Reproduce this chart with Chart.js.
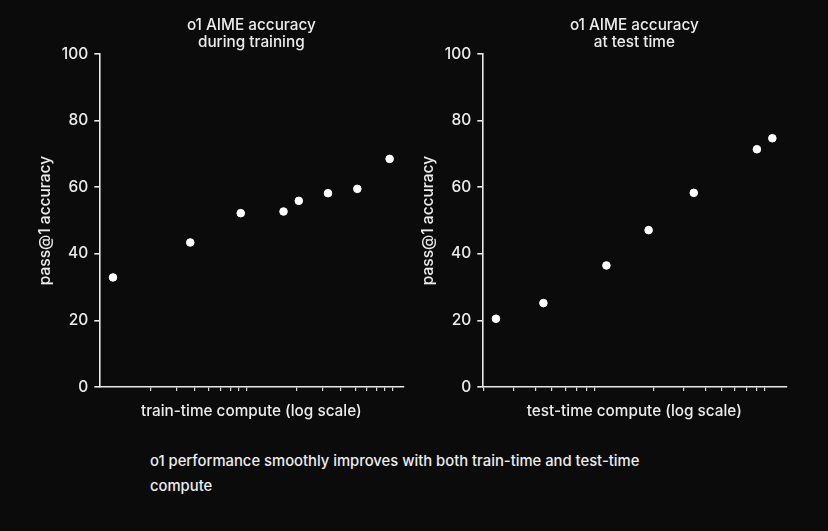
<!DOCTYPE html>
<html>
<head>
<meta charset="utf-8">
<script src="https://cdn.jsdelivr.net/npm/chart.js@4.4.1/dist/chart.umd.min.js"></script>
<style>
  html, body { margin:0; padding:0; background:#0b0b0b; }
  body { width:828px; height:531px; position:relative; overflow:hidden; font-family: Inter, "Noto Sans", sans-serif; }
  canvas { position:absolute; top:0; }
  #c1 { left:0px; }
  #c2 { left:383px; }
  #caption { position:absolute; left:150px; top:449px; color:#ededed; font-size:14.8px; font-weight:500; line-height:25px; white-space:nowrap; }
</style>
</head>
<body>
<canvas id="c1" width="414" height="430"></canvas>
<canvas id="c2" width="414" height="430"></canvas>
<div id="caption">o1 performance smoothly improves with both train-time and test-time<br>compute</div>
<script>
// ---- data ----
const trainTitle = ["o1 AIME accuracy", "during training"];
const testTitle = ["o1 AIME accuracy", "at test time"];
const trainAxisLabel = "train-time compute (log scale)";
const testAxisLabel = "test-time compute (log scale)";
const yAxisLabel = "pass@1 accuracy";

// compute in arbitrary log units (x axis is unlabeled)
const trainCompute  = [1.11, 3.74, 8.27, 16.2, 20.6, 32.6, 51.7, 85.9];
const trainAccuracy = [32.9, 43.4, 52.2, 52.7, 55.9, 58.2, 59.5, 68.5];
const testCompute   = [2.35, 4.47, 10.5, 18.6, 34.3, 80.7, 99.5];
const testAccuracy  = [20.5, 25.2, 36.5, 47.1, 58.3, 71.4, 74.7];

const yTicks = [0, 20, 40, 60, 80, 100];
const minorTicks = [2,3,4,5,6,7,8,9,20,30,40,50,60,70,80,90];
const trainRange = [0.895, 106.5];
const testRange  = [1.953, 120.2];

// ---- styling ----
const FG = '#ececec';
const FONT = 'Inter, "Noto Sans", sans-serif';

const centerTitle = {
  id: 'centerTitle',
  afterDraw(chart, args, opts) {
    const {ctx, chartArea} = chart;
    const cx = (chartArea.left + chartArea.right) / 2;
    ctx.save();
    ctx.fillStyle = FG;
    ctx.font = '500 15.3px ' + FONT;
    ctx.textAlign = 'center';
    ctx.textBaseline = 'middle';
    opts.lines.forEach((l, i) => ctx.fillText(l, cx, 25 + i * 17));
    ctx.restore();
  }
};

function makeChart(id, title, xs, ys, range, xLabel) {
  const pts = xs.map((x, i) => ({x: x, y: ys[i]}));
  return new Chart(document.getElementById(id), {
    type: 'scatter',
    data: { datasets: [{ data: pts, backgroundColor: '#ffffff', borderColor: '#ffffff', pointRadius: 3.8, pointHoverRadius: 3.8 }] },
    plugins: [centerTitle],
    options: {
      responsive: false,
      animation: false,
      devicePixelRatio: 1,
      layout: { padding: { top: 54, right: 10.7, left: 0, bottom: 0 } },
      plugins: { legend: { display: false }, tooltip: { enabled: false }, centerTitle: { lines: title } },
      scales: {
        x: {
          type: 'logarithmic',
          min: range[0], max: range[1],
          afterBuildTicks(scale) { scale.ticks = minorTicks.filter(v => v > range[0] && v < range[1]).map(v => ({value: v})); },
          afterFit(scale) { scale.height = 43; },
          ticks: { display: false },
          grid: { display: true, drawOnChartArea: false, drawTicks: true, tickLength: 4, color: '#d8d8d8', lineWidth: 1.2 },
          border: { display: true, color: '#e8e8e8', width: 1.6 },
          title: { display: true, text: xLabel, color: FG, font: { family: FONT, size: 15.3, weight: '500' }, padding: { top: 0, bottom: 9.5 } }
        },
        y: {
          min: 0, max: 100,
          afterBuildTicks(scale) { scale.ticks = yTicks.map(v => ({value: v})); },
          afterFit(scale) { scale.width = 99.3; },
          ticks: { color: FG, font: { family: FONT, size: 15.5, weight: '500' }, padding: 6 },
          grid: { display: true, drawOnChartArea: false, drawTicks: true, tickLength: 5, color: '#e8e8e8', lineWidth: 1.6 },
          border: { display: true, color: '#e8e8e8', width: 1.6 },
          title: { display: true, text: yAxisLabel, color: FG, font: { family: FONT, size: 15.5, weight: '500' }, padding: { top: 36.5, bottom: 0 } }
        }
      }
    }
  });
}

makeChart('c1', trainTitle, trainCompute, trainAccuracy, trainRange, trainAxisLabel);
makeChart('c2', testTitle, testCompute, testAccuracy, testRange, testAxisLabel);
</script>
</body>
</html>
